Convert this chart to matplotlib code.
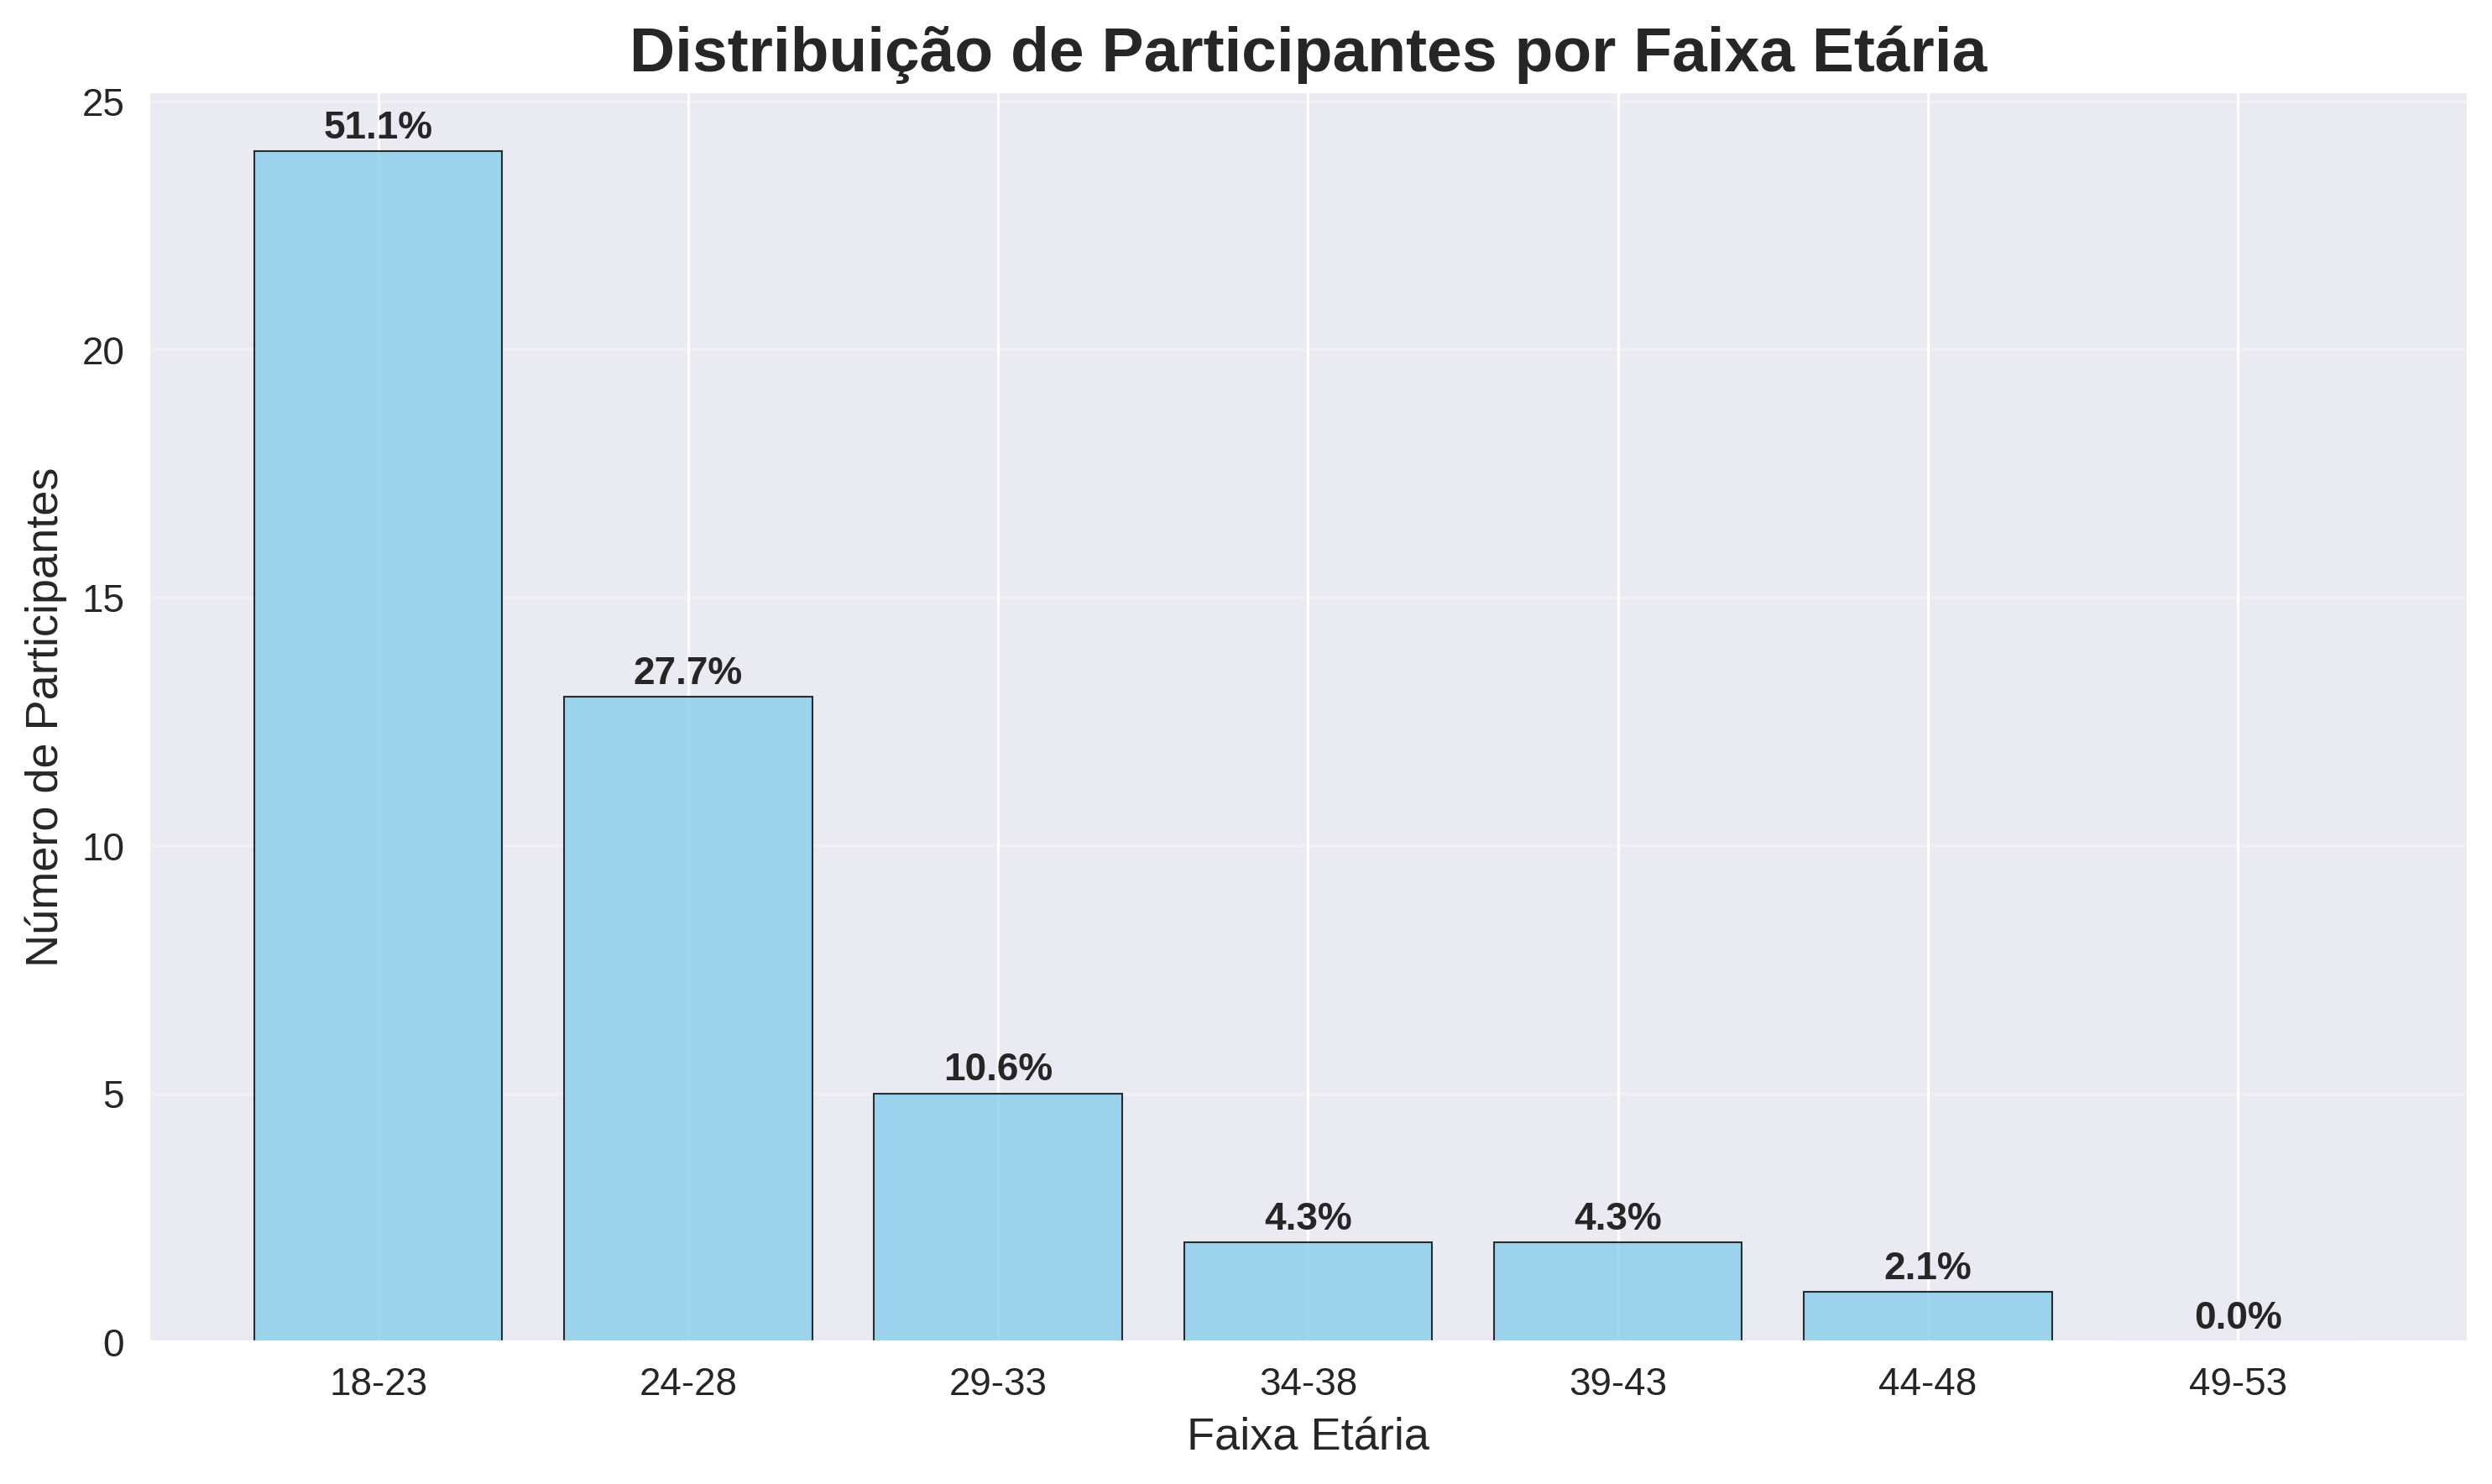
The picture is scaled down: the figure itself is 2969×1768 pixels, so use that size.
import matplotlib
matplotlib.use("Agg")
import matplotlib.pyplot as plt
import seaborn as sns

categories = ["18-23", "24-28", "29-33", "34-38", "39-43", "44-48", "49-53"]
counts = [24, 13, 5, 2, 2, 1, 0]
percents = ["51.1%", "27.7%", "10.6%", "4.3%", "4.3%", "2.1%", "0.0%"]

sns.set_style("darkgrid")
plt.rcParams['font.family'] = ['Arial', 'Liberation Sans', 'DejaVu Sans']

fig, ax = plt.subplots(figsize=(10, 6))
bars = ax.bar(categories, counts, color="skyblue", alpha=0.8, edgecolor="black", linewidth=0.5)
for b, p in zip(bars, percents):
    ax.text(b.get_x() + b.get_width() / 2, b.get_height() + 0.1, p,
            ha="center", va="bottom", fontweight="bold", fontsize=11)
ax.set_title("Distribuição de Participantes por Faixa Etária", fontsize=18, fontweight="bold")
ax.set_xlabel("Faixa Etária", fontsize=13)
ax.set_ylabel("Número de Participantes", fontsize=13)
ax.tick_params(labelsize=11)
ax.grid(axis="y", alpha=0.3)
plt.tight_layout()
plt.savefig("out.png", dpi=300, bbox_inches="tight")
